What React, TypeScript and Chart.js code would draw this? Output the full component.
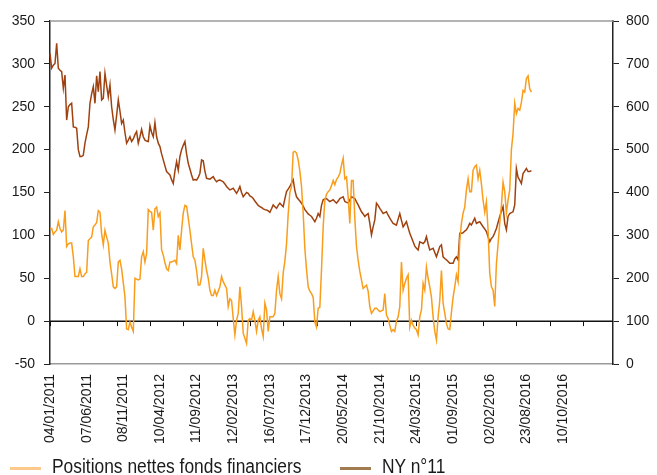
import React, { useEffect, useRef } from 'react';
import { Chart, registerables } from 'chart.js';

Chart.register(...registerables);

const tickLabels = [
  '04/01/2011', '07/06/2011', '08/11/2011', '10/04/2012', '11/09/2012',
  '12/02/2013', '16/07/2013', '17/12/2013', '20/05/2014', '21/10/2014',
  '24/03/2015', '01/09/2015', '02/02/2016', '23/08/2016', '10/10/2016',
];

const categoryCount = 339;
const labelEvery = 22;
const tickEvery = 20;

const seriesNames = ['Positions nettes fonds financiers', 'NY n°11'];

const positionsNettes = [
  108, 108, 101, 104, 106, 116, 108, 104, 106, 129,
  87, 90, 91, 91, 75, 52, 52, 52, 61, 52,
  52, 55, 57, 94, 96, 98, 110, 112, 115, 129,
  127, 102, 89, 106, 98, 91, 69, 55, 40, 38,
  40, 69, 71, 61, 45, 28, -9, -10, -1, -7,
  -12, 50, 49, 48, 49, 75, 81, 69, 79, 130,
  128, 127, 106, 131, 133, 122, 126, 83, 77, 68,
  61, 59, 69, 69, 70, 71, 67, 100, 83, 106,
  126, 135, 134, 120, 106, 90, 75, 71, 59, 42,
  42, 52, 85, 71, 59, 50, 36, 30, 30, 36,
  30, 35, 40, 52, 46, 42, 38, 17, 26, 24,
  3, -16, 1, 9, 40, 17, -14, -20, -26, 1,
  3, 1, 11, 1, -12, 1, 5, -9, -18, 21,
  13, -12, 5, 5, 5, 9, 36, 52, 32, 26,
  56, 70, 90, 125, 150, 157, 197, 198, 196, 188,
  175, 157, 126, 85, 60, 40, 35, 32, 28, -1,
  -7, 15, 16, 60, 110, 141, 148, 151, 153, 158,
  164, 159, 165, 168, 172, 182, 190, 166, 168, 145,
  114, 164, 164, 120, 87, 71, 58, 48, 38, 40,
  42, 35, 17, 9, 12, 15, 15, 13, 11, 12,
  13, 32, 7, 3, -5, -12, -10, -12, 0, 5,
  17, 69, 36, 44, 50, 54, -7, 1, -5, -8,
  -10, -16, 5, 13, 44, 36, 63, 50, 40, 28,
  5, -12, -22, 5, 24, 59, 21, 9, -3, -9,
  -10, 10, 28, 40, 54, 46, 94, 114, 126, 133,
  153, 166, 151, 151, 176, 180, 182, 166, 176, 160,
  141, 127, 139, 106, 56, 40, 36, 17, 67, 90,
  114, 135, 162, 151, 126, 141, 153, 200, 219, 254,
  242, 248, 246, 255, 269, 267, 283, 286, 271, 267,
];

const ny11 = [
  724, 690, 697, 701, 748, 690, 685, 682, 643, 674,
  569, 600, 605, 608, 553, 552, 550, 500, 484, 484,
  487, 515, 535, 553, 608, 630, 647, 608, 672, 635,
  682, 616, 620, 678, 650, 623, 651, 600, 570, 546,
  580, 616, 590, 561, 569, 540, 515, 522, 530, 519,
  525, 535, 542, 515, 530, 547, 530, 522, 520, 519,
  556, 540, 530, 563, 530, 515, 507, 490, 476, 462,
  449, 445, 441, 430, 421, 450, 472, 452, 484, 500,
  510, 519, 490, 468, 455, 441, 429, 430, 429, 435,
  445, 476, 474, 450, 433, 432, 431, 434, 437, 430,
  425, 428, 429, 427, 425, 420, 414, 410, 406, 408,
  410, 404, 398, 405, 414, 400, 390, 395, 400, 398,
  392, 390, 386, 380, 375, 370, 367, 365, 362, 360,
  359, 357, 354, 362, 371, 367, 363, 370, 375, 371,
  367, 385, 402, 408, 414, 422, 430, 405, 390, 385,
  380, 375, 368, 360, 355, 350, 347, 344, 338, 332,
  340, 351, 344, 370, 383, 385, 386, 382, 379, 381,
  383, 379, 375, 380, 386, 388, 390, 379, 377, 376,
  383, 390, 388, 386, 378, 371, 363, 355, 350, 344,
  348, 351, 328, 301, 320, 336, 375, 370, 363, 357,
  351, 353, 355, 347, 340, 334, 328, 326, 324, 338,
  351, 335, 320, 326, 332, 318, 305, 295, 285, 275,
  270, 266, 285, 283, 281, 285, 297, 280, 266, 268,
  270, 260, 250, 262, 274, 278, 250, 246, 243, 239,
  235, 235, 235, 245, 250, 243, 305, 305, 306, 310,
  313, 320, 328, 324, 332, 340, 328, 330, 332, 326,
  320, 315, 309, 297, 285, 293, 297, 306, 316, 330,
  344, 356, 367, 328, 313, 344, 351, 353, 355, 371,
  456, 435, 429, 421, 444, 450, 456, 449, 449, 451,
];

const leftAxis = { min: -50, max: 350, step: 50 };
const rightAxis = { min: 0, max: 800, step: 100 };

const ORANGE = '#F99D1C';
const BROWN = '#A0420F';
const ORANGE_LEGEND = '#FDC98C';
const BROWN_LEGEND = '#A07C4E';
const FONT = "'Liberation Sans', Arial, sans-serif";

const axisDecor = {
  id: 'axisDecor',
  beforeDatasetsDraw(chart: any) {
    const { ctx, chartArea, scales } = chart;
    const xs = scales.x;
    const ys = scales.y;
    const y0 = ys.getPixelForValue(0);
    ctx.save();
    ctx.strokeStyle = '#9a9a9a';
    ctx.lineWidth = 1.5;
    ctx.beginPath();
    ctx.moveTo(chartArea.left, chartArea.top);
    ctx.lineTo(chartArea.right, chartArea.top);
    ctx.stroke();
    ctx.strokeStyle = '#111';
    ctx.lineWidth = 1.5;
    ctx.beginPath();
    ctx.moveTo(chartArea.left, y0);
    ctx.lineTo(chartArea.right, y0);
    ctx.stroke();
    ctx.lineWidth = 1;
    ctx.beginPath();
    for (let i = 0; i < categoryCount; i += tickEvery) {
      const px = Math.round(xs.getPixelForValue(i)) + 0.5;
      ctx.moveTo(px, y0);
      ctx.lineTo(px, y0 + 5);
    }
    ctx.stroke();
    ctx.restore();
  },
};

export default function App() {
  const canvasRef = useRef<HTMLCanvasElement | null>(null);

  useEffect(() => {
    if (!canvasRef.current) return;
    const labels = Array.from({ length: categoryCount }, (_, i) =>
      i % labelEvery === 0 && tickLabels[i / labelEvery] ? tickLabels[i / labelEvery] : ''
    );
    const chart = new Chart(canvasRef.current, {
      type: 'line',
      data: {
        labels,
        datasets: [
          {
            label: seriesNames[0],
            data: positionsNettes,
            yAxisID: 'y',
            borderColor: ORANGE,
            borderWidth: 1.5,
            pointRadius: 0,
            tension: 0,
            fill: false,
          },
          {
            label: seriesNames[1],
            data: ny11,
            yAxisID: 'y2',
            borderColor: BROWN,
            borderWidth: 1.5,
            pointRadius: 0,
            tension: 0,
            fill: false,
          },
        ],
      },
      options: {
        animation: false,
        responsive: true,
        maintainAspectRatio: false,
        layout: { padding: { top: 21, left: 0, right: 0, bottom: 0 } },
        plugins: {
          legend: { display: false },
          tooltip: { enabled: false },
        },
        scales: {
          x: {
            type: 'category',
            offset: false,
            grid: { display: false, drawTicks: false },
            border: { display: true, color: '#9a9a9a', width: 1.5 },
            ticks: {
              autoSkip: false,
              maxRotation: 90,
              minRotation: 90,
              padding: 10,
              color: '#1a1a1a',
              font: { family: FONT, size: 14 },
            },
            afterFit: (scale: any) => {
              scale.height = 111;
            },
          },
          y: {
            position: 'left',
            min: leftAxis.min,
            max: leftAxis.max,
            ticks: {
              stepSize: leftAxis.step,
              padding: 9,
              color: '#1a1a1a',
              font: { family: FONT, size: 14 },
            },
            grid: { drawOnChartArea: false, drawTicks: true, tickLength: 6, color: '#222' },
            border: { display: true, color: '#222', width: 1.5 },
            afterFit: (scale: any) => {
              scale.width = 50;
            },
          },
          y2: {
            position: 'right',
            min: rightAxis.min,
            max: rightAxis.max,
            ticks: {
              stepSize: rightAxis.step,
              padding: 7,
              color: '#1a1a1a',
              font: { family: FONT, size: 14 },
            },
            grid: { drawOnChartArea: false, drawTicks: true, tickLength: 6, color: '#222' },
            border: { display: true, color: '#222', width: 1.5 },
            afterFit: (scale: any) => {
              scale.width = 44;
            },
          },
        },
      },
      plugins: [axisDecor],
    });
    return () => chart.destroy();
  }, []);

  const legendItems = [
    { name: seriesNames[0], color: ORANGE_LEGEND, lineLeft: 10, textLeft: 52 },
    { name: seriesNames[1], color: BROWN_LEGEND, lineLeft: 340, textLeft: 382 },
  ];

  return (
    <div style={{ position: 'absolute', left: 0, top: 0, width: 657, height: 475, background: '#fff' }}>
      <canvas ref={canvasRef} />
      {legendItems.map((it) => (
        <React.Fragment key={it.name}>
          <div
            style={{
              position: 'absolute',
              left: it.lineLeft,
              top: 467,
              width: 31,
              height: 3,
              background: it.color,
            }}
          />
          <div
            style={{
              position: 'absolute',
              left: it.textLeft,
              top: 456,
              fontFamily: FONT,
              fontSize: 17.4,
              lineHeight: '17px',
              color: '#1a1a1a',
              whiteSpace: 'nowrap',
              transform: 'scaleY(1.18)',
              transformOrigin: 'left top',
            }}
          >
            {it.name}
          </div>
        </React.Fragment>
      ))}
    </div>
  );
}
